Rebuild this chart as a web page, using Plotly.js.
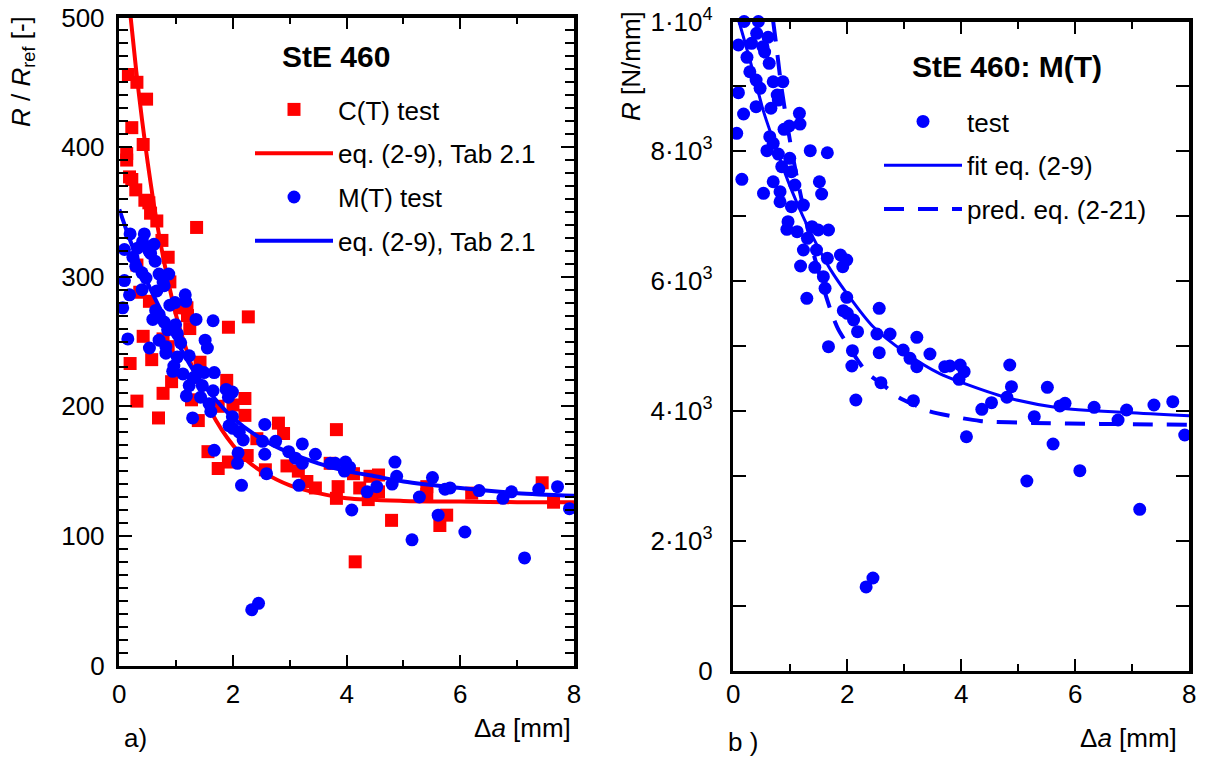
<!DOCTYPE html>
<html>
<head>
<meta charset="utf-8">
<script src="https://cdn.plot.ly/plotly-3.0.1.min.js"></script>
<style>html,body{margin:0;padding:0;background:#fff}#chart{width:1206px;height:758px}</style>
</head>
<body>
<div id="chart"></div>
<script>
// ---------- data: panel a) C(T) test, R/Rref [-] ----------
const ctX = [0.16,0.31,0.48,0.22,0.42,0.13,0.13,0.18,0.22,0.29,0.45,0.52,0.55,0.66,1.36,0.75,0.86,0.31,0.89,0.36,0.53,1.07,1.19,1.20,2.27,1.92,1.24,0.42,0.77,0.86,0.57,0.19,1.42,0.92,0.77,1.89,1.27,2.21,0.31,2.0,1.74,2.21,0.69,1.39,2.80,2.89,3.82,2.42,3.71,3.85,3.82,4.12,4.23,4.38,4.41,4.56,4.56,4.79,5.41,5.41,5.76,5.64,6.20,7.44,7.64,4.15,1.56,1.74,1.92,2.25,2.57,2.95,3.45,3.15,3.3];
const ctY = [456,450,437,415,402,395,390,377,375,367,359,357,349,343,338,328,315,309,296,288,281,276,276,270,269,261,260,254,252,246,236,233,234,219,210,220,205,206,204,201,200,193,191,189,187,179,182,175,156,138,129,148,137,128,146,147,134,112,138,132,116,108,133,141,126,80,165,152,157,162,151,154,137,150,142];
const ctFitX = [0.2,0.3,0.4,0.5,0.6,0.7,0.8,1.0,1.2,1.4,1.6,1.8,2.0,2.25,2.5,3.0,3.5,4.0,5.0,6.0,7.0,8.0];
const ctFitY = [500,458,421,388,358,332,309,270,241,216,197,182,170,158,150,139,133,129,127,126.5,126,126];

// ---------- data: M(T) test, panel a) R/Rref [-] ----------
const mtX = [0.19,0.44,0.41,0.61,0.09,0.32,0.52,0.55,0.24,0.63,0.29,0.40,0.47,0.09,0.70,0.87,0.77,0.79,0.18,0.40,0.66,1.16,0.06,0.89,0.98,1.17,0.64,0.70,0.59,0.79,0.99,1.35,1.65,0.85,1.02,0.15,0.70,1.08,1.51,0.53,0.82,1.55,0.82,1.02,1.23,0.96,0.94,1.12,1.38,1.49,1.67,1.30,1.23,1.46,1.65,1.88,1.99,1.92,1.18,1.43,1.58,1.61,1.29,1.99,2.56,1.93,2.00,2.11,2.18,2.52,2.75,3.22,2.98,3.10,3.22,3.45,2.56,2.09,1.67,2.08,2.59,3.16,2.15,3.71,3.80,3.98,4.05,3.96,4.09,4.36,4.53,4.80,4.85,4.88,5.15,5.28,5.51,5.61,5.73,5.82,6.08,6.33,6.75,6.90,7.13,7.38,7.71,7.92,2.33,2.45];
const mtRatio = [333,333,327,325,321,322,320,318,315,312,308,303,299,297,302,302,296,293,286,290,289,286,276,278,280,281,274,271,267,265,263,267,266,259,256,252,251,249,251,245,246,245,241,238,239,231,227,225,228,226,226,222,216,216,212,213,211,207,208,207,202,196,191,192,186,185,183,180,174,173,173,171,165,160,156,163,163,164,166,156,148,139,139,156,156,157,153,150,120,134,138,140,157,146,97,130,145,116,136,137,103,135,129,134,83,136,138,121,43,48];
const mtFitX = [0,0.2,0.5,0.8,1.0,1.3,1.6,2.0,2.5,3.0,3.5,4.0,4.5,5.0,6.0,7.0,8.0];
const mtFitY = [352,327,295,268,251,228,210,191,175,164,156,150,146,142,137,133,131];

// ---------- data: panel b) M(T), R [N/mm] ----------
const mtR = [10000,10000,9818,9757,9638,9664,9612,9530,9448,9356,9226,9098,8971,8903,9072,9072,8867,8790,8575,8687,8663,8585,8277,8339,8390,8420,8225,8123,8009,7958,7892,8009,7978,7763,7686,7568,7531,7481,7531,7353,7378,7342,7223,7146,7172,6915,6798,6761,6838,6787,6787,6659,6479,6479,6351,6402,6325,6222,6233,6213,6068,5889,5735,5750,5581,5544,5504,5401,5220,5185,5185,5134,4938,4810,4681,4877,4897,4928,4989,4692,4435,4157,4168,4681,4692,4707,4604,4487,3602,4025,4126,4210,4707,4373,2920,3911,4364,3490,4076,4117,3079,4055,3860,4014,2484,4091,4142,3629,1287,1425];
const fitX = [0.1,0.3,0.53,0.75,0.96,1.12,1.3,1.5,1.7,2.0,2.45,3.05,3.63,4.0,4.8,5.7,6.9,8.0];
const fitY = [10000,9380,8615,8050,7540,7200,6850,6500,6185,5800,5300,4877,4570,4440,4205,4050,3975,3925];
const predX = [0.7,0.75,0.85,0.96,1.05,1.2,1.4,1.7,1.84,2.0,2.19,2.35,2.63,2.9,3.22,3.42,3.8,4.33,5.25,6.43,8.0];
const predY = [10000,9660,8950,8340,7890,7250,6450,5570,5260,5030,4770,4585,4400,4210,4077,4000,3923,3846,3815,3800,3785];

// ---------- tick labels ----------
const rTickVals = [0,2000,4000,6000,8000,10000];
const rTickText = ['0','2·10<sup>3</sup>','4·10<sup>3</sup>','6·10<sup>3</sup>','8·10<sup>3</sup>','1·10<sup>4</sup>'];

// ---------- styling ----------
const RED = '#ff0000', BLUE = '#0000ff';
const FONT = 'Liberation Sans, Arial, Helvetica, sans-serif';
const W = 1206, H = 758;
const px = x => x / W, py = y => 1 - y / H;

const mk = (sym, col) => ({symbol: sym, size: 13, color: col, line: {width: 0}});

const traces = [
  {x: ctX, y: ctY, mode: 'markers', name: 'C(T) test', marker: mk('square', RED), xaxis: 'x', yaxis: 'y', cliponaxis: false, legend: 'legend', legendgroup: 'a1'},
  {x: ctFitX, y: ctFitY, mode: 'lines', name: 'eq. (2-9), Tab 2.1', line: {color: RED, width: 4, shape: 'spline', smoothing: 0.8}, xaxis: 'x', yaxis: 'y', legend: 'legend', legendgroup: 'a2'},
  {x: mtX, y: mtRatio, mode: 'markers', name: 'M(T) test', marker: mk('circle', BLUE), xaxis: 'x', yaxis: 'y', cliponaxis: false, legend: 'legend', legendgroup: 'a3'},
  {x: mtFitX, y: mtFitY, mode: 'lines', name: 'eq. (2-9), Tab 2.1 ', line: {color: BLUE, width: 4, shape: 'spline', smoothing: 0.8}, xaxis: 'x', yaxis: 'y', legend: 'legend', legendgroup: 'a4'},
  {x: mtX, y: mtR, mode: 'markers', name: 'test', marker: mk('circle', BLUE), xaxis: 'x2', yaxis: 'y2', cliponaxis: false, legend: 'legend2', legendgroup: 'b1'},
  {x: fitX, y: fitY, mode: 'lines', name: 'fit eq. (2-9)', line: {color: BLUE, width: 3, shape: 'spline', smoothing: 0.8}, xaxis: 'x2', yaxis: 'y2', cliponaxis: false, legend: 'legend2', legendgroup: 'b2'},
  {x: predX, y: predY, mode: 'lines', name: 'pred. eq. (2-21)', line: {color: BLUE, width: 4, dash: '20px,14px', shape: 'spline', smoothing: 0.8}, xaxis: 'x2', yaxis: 'y2', cliponaxis: false, legend: 'legend2', legendgroup: 'b3'}
];

const axBase = {
  showline: true, linewidth: 3.5, linecolor: '#000', mirror: 'allticks',
  ticks: 'inside', tickwidth: 2, tickcolor: '#000', showgrid: false, zeroline: false,
  tickfont: {family: FONT, size: 26, color: '#000'}
};

const layout = {
  width: W, height: H, margin: {l: 0, r: 0, t: 0, b: 0},
  paper_bgcolor: '#fff', plot_bgcolor: '#fff',
  font: {family: FONT, size: 26, color: '#000'},
  showlegend: true,
  xaxis: Object.assign({}, axBase, {domain: [px(119.3), px(574)], range: [0, 8], tick0: 0, dtick: 2, ticklen: 11,
    minor: {dtick: 1, ticks: 'inside', ticklen: 6, tickwidth: 2, tickcolor: '#000'}, anchor: 'y', ticklabelstandoff: 3}),
  yaxis: Object.assign({}, axBase, {domain: [py(665.5), py(17.5)], range: [0, 500], tick0: 0, dtick: 100, ticklen: 13,
    minor: {dtick: 10, ticks: 'inside', ticklen: 9, tickwidth: 2, tickcolor: '#000'}, anchor: 'x', ticklabelstandoff: 6}),
  xaxis2: Object.assign({}, axBase, {domain: [px(733.3), px(1189.3)], range: [0, 8], tick0: 0, dtick: 2, ticklen: 12,
    minor: {dtick: 1, ticks: 'inside', ticklen: 7, tickwidth: 2, tickcolor: '#000'}, anchor: 'y2', ticklabelstandoff: -2}),
  yaxis2: Object.assign({}, axBase, {domain: [py(670.5), py(21.5)], range: [0, 10000], tickmode: 'array', tickvals: rTickVals, ticktext: rTickText, ticklen: 13,
    minor: {dtick: 1000, ticks: 'inside', ticklen: 13, tickwidth: 2, tickcolor: '#000'}, anchor: 'x2', ticklabelstandoff: 12}),
  legend: {x: px(250), y: py(86), xanchor: 'left', yanchor: 'top', bgcolor: 'rgba(0,0,0,0)', borderwidth: 0,
    font: {family: FONT, size: 26, color: '#000'}, itemwidth: 78, tracegroupgap: 7, traceorder: 'grouped'},
  legend2: {x: px(879), y: py(98), xanchor: 'left', yanchor: 'top', bgcolor: 'rgba(0,0,0,0)', borderwidth: 0,
    font: {family: FONT, size: 26, color: '#000'}, itemwidth: 78, tracegroupgap: 7, traceorder: 'grouped'},
  annotations: [
    {text: '<b>StE 460</b>', x: px(280), y: py(56), xref: 'paper', yref: 'paper', xanchor: 'left', yanchor: 'middle', showarrow: false, font: {family: FONT, size: 30}},
    {text: '<b>StE 460: M(T)</b>', x: px(910), y: py(66), xref: 'paper', yref: 'paper', xanchor: 'left', yanchor: 'middle', showarrow: false, font: {family: FONT, size: 30}},
    {text: '<i>R</i> / <i>R</i><sub>ref</sub> [-]', x: px(22), y: py(72), xref: 'paper', yref: 'paper', xanchor: 'center', yanchor: 'middle', textangle: -90, showarrow: false, font: {family: FONT, size: 26}},
    {text: '<i>R</i> [N/mm]', x: px(631), y: py(66), xref: 'paper', yref: 'paper', xanchor: 'center', yanchor: 'middle', textangle: -90, showarrow: false, font: {family: FONT, size: 26}},
    {text: 'Δ<i>a</i> [mm]', x: px(573), y: py(728), xref: 'paper', yref: 'paper', xanchor: 'right', yanchor: 'middle', showarrow: false, font: {family: FONT, size: 26}},
    {text: 'Δ<i>a</i> [mm]', x: px(1179), y: py(738), xref: 'paper', yref: 'paper', xanchor: 'right', yanchor: 'middle', showarrow: false, font: {family: FONT, size: 26}},
    {text: 'a)', x: px(122), y: py(738), xref: 'paper', yref: 'paper', xanchor: 'left', yanchor: 'middle', showarrow: false, font: {family: FONT, size: 26}},
    {text: 'b )', x: px(726), y: py(742), xref: 'paper', yref: 'paper', xanchor: 'left', yanchor: 'middle', showarrow: false, font: {family: FONT, size: 26}}
  ]
};

Plotly.newPlot('chart', traces, layout, {displayModeBar: false, staticPlot: true});
</script>
</body>
</html>
